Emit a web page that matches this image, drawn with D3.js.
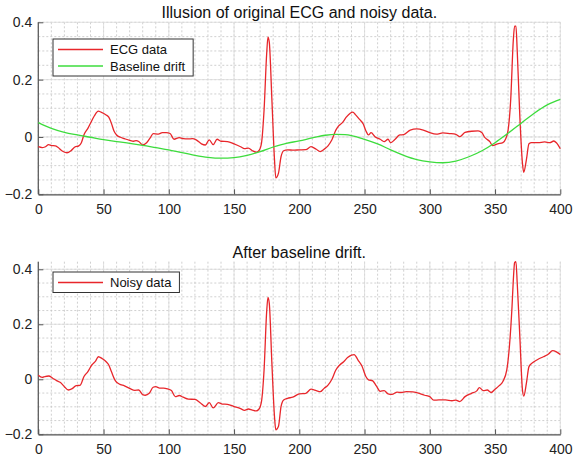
<!DOCTYPE html>
<html>
<head>
<meta charset="utf-8">
<script src="https://cdn.jsdelivr.net/npm/d3@7"></script>
<style>
  body { margin: 0; background: #fff; }
  svg { font-family: "Liberation Sans", Arial, sans-serif; }
</style>
</head>
<body>
<svg id="chart" width="573" height="460"></svg>
<script>
// values: [sample, amplitude]
var ecgData = [
  [0,-0.034],[3,-0.037],[5,-0.035],[8,-0.027],[10,-0.03],[13,-0.031],[15,-0.036],[18,-0.048],
  [22,-0.055],[25,-0.048],[28,-0.035],[31,-0.031],[33,-0.02],[35,0.008],[38,0.03],[40,0.048],
  [43,0.074],[46,0.09],[48,0.087],[52,0.077],[54,0.069],[56,0.048],[58,0.021],[60,0.007],
  [63,-0.001],[66,-0.006],[70,-0.012],[73,-0.015],[75,-0.013],[77,-0.016],[80,-0.028],[83,-0.02],
  [86,-0.001],[88,0.012],[92,0.01],[95,0.015],[98,0.015],[101,0.012],[104,-0.008],[108,-0.002],
  [111,-0.006],[115,-0.007],[118,-0.006],[121,-0.01],[125,-0.024],[128,-0.028],[131,-0.01],[134,-0.027],
  [137,-0.008],[140,-0.015],[145,-0.016],[150,-0.024],[155,-0.034],[158,-0.041],[161,-0.039],[164,-0.048],
  [167,-0.053],[169,-0.048],[171,-0.022],[173,0.094],[175,0.29],[176,0.348],[177,0.33],[179,0.13],
  [181,-0.08],[182,-0.143],[184,-0.127],[186,-0.069],[188,-0.048],[191,-0.045],[195,-0.046],[200,-0.045],
  [205,-0.044],[209,-0.034],[213,-0.043],[216,-0.051],[219,-0.043],[222,-0.031],[225,-0.01],[228,0.024],
  [230,0.038],[233,0.05],[236,0.069],[239,0.083],[241,0.087],[243,0.078],[246,0.062],[249,0.045],
  [251,0.022],[253,0.007],[255,0.015],[258,0.001],[262,-0.008],[265,-0.016],[268,-0.008],[270,-0.02],
  [273,-0.01],[277,0.007],[280,0.008],[285,0.024],[290,0.028],[295,0.024],[300,0.015],[305,0.01],
  [310,0.014],[315,0.012],[320,0.009],[323,0.001],[327,0.016],[332,0.02],[337,0.021],[340,0.015],
  [342,-0.001],[346,-0.016],[348,-0.03],[352,-0.024],[356,-0.02],[358,-0.008],[360,0.024],[362,0.13],
  [364,0.338],[365,0.387],[366,0.387],[367,0.3],[369,0.07],[371,-0.092],[372,-0.123],[374,-0.08],
  [376,-0.024],[378,-0.02],[383,-0.02],[388,-0.017],[392,-0.02],[395,-0.014],[397,-0.02],[400,-0.041]
];

var driftData = [
  [0,0.05],[10,0.03],[20,0.016],[30,0.007],[40,-0.001],[50,-0.009],[60,-0.016],[70,-0.022],
  [80,-0.029],[90,-0.037],[100,-0.045],[110,-0.055],[120,-0.064],[130,-0.071],[140,-0.074],[150,-0.072],
  [160,-0.064],[170,-0.051],[180,-0.035],[190,-0.022],[200,-0.014],[210,-0.003],[220,0.006],[228,0.009],
  [235,0.008],[240,0.005],[250,-0.008],[260,-0.024],[270,-0.045],[280,-0.064],[290,-0.079],[300,-0.087],
  [310,-0.09],[320,-0.084],[330,-0.069],[340,-0.048],[350,-0.02],[360,0.013],[370,0.048],[380,0.083],
  [390,0.112],[400,0.131]
];

var noisyData = [
  [0,0.015],[3,0.007],[5,0.01],[8,0.012],[11,0.004],[14,-0.005],[17,-0.012],[20,-0.027],
  [23,-0.039],[26,-0.034],[29,-0.023],[32,-0.022],[35,0.01],[38,0.028],[41,0.052],[44,0.067],
  [46,0.082],[49,0.075],[52,0.064],[54,0.052],[56,0.028],[59,-0.005],[62,-0.017],[66,-0.024],
  [70,-0.033],[74,-0.04],[77,-0.039],[80,-0.056],[82,-0.058],[85,-0.051],[88,-0.029],[90,-0.027],
  [93,-0.032],[96,-0.032],[99,-0.035],[102,-0.041],[105,-0.063],[108,-0.059],[111,-0.065],[115,-0.072],
  [120,-0.073],[124,-0.085],[128,-0.099],[131,-0.085],[134,-0.104],[138,-0.085],[141,-0.09],[145,-0.091],
  [150,-0.099],[155,-0.107],[158,-0.113],[161,-0.108],[164,-0.112],[167,-0.115],[169,-0.109],[171,-0.081],
  [173,0.034],[175,0.246],[176,0.298],[177,0.276],[179,0.058],[181,-0.136],[182,-0.184],[184,-0.172],
  [186,-0.099],[188,-0.075],[191,-0.069],[195,-0.065],[200,-0.053],[205,-0.051],[209,-0.036],[213,-0.041],
  [216,-0.045],[219,-0.033],[222,-0.021],[225,0],[228,0.034],[231,0.052],[234,0.064],[237,0.079],
  [240,0.088],[242,0.09],[245,0.07],[248,0.048],[251,0.01],[253,-0.002],[256,-0.005],[259,-0.024],
  [262,-0.044],[265,-0.041],[268,-0.053],[271,-0.055],[275,-0.047],[278,-0.048],[282,-0.045],[287,-0.046],
  [292,-0.051],[296,-0.058],[300,-0.063],[303,-0.076],[307,-0.075],[312,-0.075],[317,-0.078],[320,-0.076],
  [323,-0.081],[327,-0.063],[332,-0.051],[336,-0.042],[338,-0.03],[341,-0.041],[344,-0.039],[347,-0.048],
  [350,-0.036],[353,-0.024],[356,-0.008],[359,0.034],[361,0.119],[363,0.264],[364,0.361],[365,0.424],
  [366,0.428],[367,0.349],[369,0.155],[371,-0.039],[372,-0.061],[374,-0.015],[376,0.046],[379,0.061],
  [383,0.073],[387,0.082],[391,0.092],[394,0.104],[397,0.1],[400,0.09]
];

var xTicks = [0, 50, 100, 150, 200, 250, 300, 350, 400];
var yTicks = [-0.2, 0, 0.2, 0.4];

var svg = d3.select("#chart");
var left = 38.3, right = 560.3;

function drawPanel(cfg) {
  var x = d3.scaleLinear().domain([0, 400]).range([left, right]);
  var y = d3.scaleLinear().domain(cfg.yDomain).range([cfg.bottom, cfg.top]);
  var g = svg.append("g");

  // grid: minor dotted, major solid
  var minorX = d3.range(0, 401, 10), minorY = d3.range(-0.2, cfg.yDomain[1] + 1e-9, 0.05);
  g.append("g").selectAll("line").data(minorX).enter().append("line")
    .attr("x1", d => x(d)).attr("x2", d => x(d)).attr("y1", cfg.top).attr("y2", cfg.bottom)
    .attr("stroke", "#c4c4c4").attr("stroke-dasharray", "2,2").attr("stroke-width", 0.8);
  g.append("g").selectAll("line").data(minorY).enter().append("line")
    .attr("y1", d => y(d)).attr("y2", d => y(d)).attr("x1", left).attr("x2", right)
    .attr("stroke", "#c4c4c4").attr("stroke-dasharray", "2,2").attr("stroke-width", 0.8);
  g.append("g").selectAll("line").data(xTicks).enter().append("line")
    .attr("x1", d => x(d)).attr("x2", d => x(d)).attr("y1", cfg.top).attr("y2", cfg.bottom)
    .attr("stroke", "#dcdcdc").attr("stroke-width", 0.8);
  g.append("g").selectAll("line").data(yTicks).enter().append("line")
    .attr("y1", d => y(d)).attr("y2", d => y(d)).attr("x1", left).attr("x2", right)
    .attr("stroke", "#dcdcdc").attr("stroke-width", 0.8);

  // axes, ticks pointing inward
  var ax = g.append("g").attr("transform", "translate(0," + cfg.bottom + ")")
    .call(d3.axisBottom(x).tickValues(xTicks).tickSizeInner(-5).tickSizeOuter(0).tickPadding(10));
  var ay = g.append("g").attr("transform", "translate(" + left + ",0)")
    .call(d3.axisLeft(y).tickValues(yTicks).tickSizeInner(-5).tickSizeOuter(0).tickPadding(6)
      .tickFormat(d => d === 0 ? "0" : d3.format(".1f")(d)));
  [ax, ay].forEach(a => {
    a.select(".domain").attr("stroke", "#555").attr("stroke-width", 1.2);
    a.selectAll(".tick line").attr("stroke", "#555");
    a.selectAll("text").attr("font-size", 14).attr("fill", "#222")
      .attr("font-family", "Liberation Sans, Arial, sans-serif");
  });
  // make the vertical axis reach the top
  ay.select(".domain").attr("d", "M0," + cfg.top + "V" + cfg.bottom);

  var line = d3.line().x(d => x(d[0])).y(d => y(d[1])).curve(d3.curveMonotoneX);
  cfg.series.forEach(s => {
    g.append("path").datum(s.data)
      .attr("fill", "none").attr("stroke", s.color).attr("stroke-width", 1.3)
      .attr("d", line);
  });

  g.append("text").attr("x", (left + right) / 2).attr("y", cfg.titleY)
    .attr("text-anchor", "middle").attr("font-size", 16).attr("fill", "#111").text(cfg.title);

  // legend
  var lg = g.append("g");
  var lh = 16.5;
  var box = lg.append("rect").attr("x", 53).attr("y", cfg.legendY)
    .attr("height", cfg.series.length * lh + 4).attr("fill", "#fff")
    .attr("stroke", "#333").attr("stroke-width", 1);
  var maxW = 0;
  cfg.series.forEach((s, i) => {
    var cy = cfg.legendY + 10.5 + i * lh;
    lg.append("line").attr("x1", 58).attr("x2", 103).attr("y1", cy).attr("y2", cy)
      .attr("stroke", s.color).attr("stroke-width", 1.3);
    var t = lg.append("text").attr("x", 110).attr("y", cy + 4.5).attr("font-size", 13)
      .attr("fill", "#111").text(s.name);
    maxW = Math.max(maxW, t.node().getComputedTextLength());
  });
  box.attr("width", 110 - 53 + maxW + 8);
}

drawPanel({
  top: 22.3, bottom: 194.3, yDomain: [-0.2, 0.4], titleY: 18,
  title: "Illusion of original ECG and noisy data.", legendY: 39,
  series: [
    { name: "ECG data", data: ecgData, color: "#e8262b" },
    { name: "Baseline drift", data: driftData, color: "#3ddc3d" }
  ]
});

drawPanel({
  top: 261.7, bottom: 434.3, yDomain: [-0.2, 0.4276], titleY: 258,
  title: "After baseline drift.", legendY: 272,
  series: [
    { name: "Noisy data", data: noisyData, color: "#e8262b" }
  ]
});
</script>
</body>
</html>
